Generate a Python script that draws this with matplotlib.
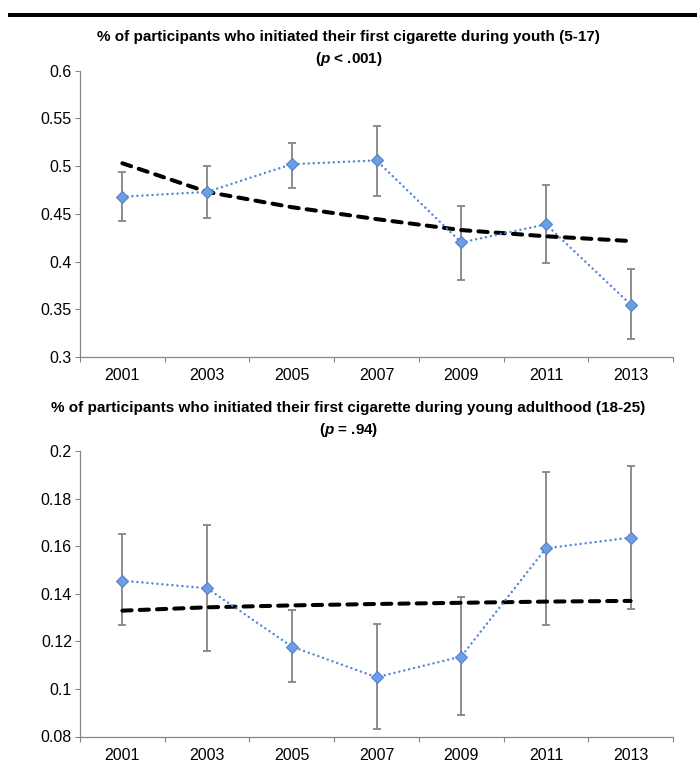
import matplotlib
matplotlib.use("Agg")
import matplotlib.pyplot as plt
from matplotlib.patches import Rectangle

plt.rcParams['font.family'] = ['Liberation Sans', 'DejaVu Sans']
plt.rcParams['mathtext.fontset'] = 'custom'
plt.rcParams['mathtext.it'] = 'Liberation Sans:italic:bold'
plt.rcParams['mathtext.rm'] = 'Liberation Sans:bold'

years = ['2001', '2003', '2005', '2007', '2009', '2011', '2013']

# youth (5-17)
youth = [0.468, 0.473, 0.502, 0.506, 0.420, 0.439, 0.355]
youth_lo = [0.4425, 0.4456, 0.477, 0.469, 0.381, 0.398, 0.319]
youth_hi = [0.494, 0.500, 0.5245, 0.5423, 0.458, 0.480, 0.392]
youth_trend = [0.503, 0.473, 0.457, 0.4445, 0.433, 0.4265, 0.4215]

# young adulthood (18-25)
adult = [0.1455, 0.1423, 0.1178, 0.1049, 0.1136, 0.1591, 0.1636]
adult_lo = [0.1268, 0.116, 0.1027, 0.0833, 0.0891, 0.1269, 0.1336]
adult_hi = [0.165, 0.1689, 0.1332, 0.1273, 0.1385, 0.1912, 0.1938]
adult_trend = [0.1329, 0.1343, 0.1351, 0.1357, 0.1362, 0.1367, 0.137]

titles = [
    ("% of participants who initiated their first cigarette during youth (5-17)",
     r"($\mathit{p}$ < .001)"),
    ("% of participants who initiated their first cigarette during young adulthood (18-25)",
     r"($\mathit{p}$ = .94)"),
]

W, H = 697, 763
fig = plt.figure(figsize=(W / 100, H / 100), dpi=100)

# thick rule across the top
fig.add_artist(Rectangle((8 / W, 1 - 17 / H), 1 - 8 / W, 4.5 / H,
                         transform=fig.transFigure, color='black', lw=0))


def draw_panel(rect, vals, lo, hi, trend, ylim, yticks):
    ax = fig.add_axes(rect)
    x = list(range(len(years)))
    err = [[v - l for v, l in zip(vals, lo)], [h - v for v, h in zip(vals, hi)]]
    ax.errorbar(x, vals, yerr=err, fmt='none', ecolor='#858585', elinewidth=1.3,
                capsize=2.8, capthick=1.3, zorder=2)
    ax.plot(x, trend, color='black', lw=2.9, dashes=(2.3, 2.0),
            dash_capstyle='round', solid_capstyle='round', zorder=3)
    # dotted connecting line
    ax.plot(x, vals, color='#4f86d6', lw=1.8, ls=(0, (0.01, 2.0)),
            dash_capstyle='round', zorder=4)
    ax.plot(x, vals, ls='none', marker='D', ms=6.3, mfc='#6f9de3',
            mec='#5083cc', mew=0.8, zorder=5)

    ax.set_xlim(-0.5, len(years) - 0.5)
    ax.set_ylim(*ylim)
    ax.set_yticks(yticks)
    ax.set_yticklabels([f"{t:.2f}".rstrip('0') for t in yticks])
    ax.set_xticks(x)
    ax.set_xticklabels(years)
    ax.set_xticks([i + 0.5 for i in range(-1, len(years))], minor=True)
    ax.tick_params(axis='x', which='major', length=0, pad=8, labelsize=11.5)
    ax.tick_params(axis='x', which='minor', length=3.5, width=0.8, color='#868686',
                   direction='out')
    ax.tick_params(axis='y', length=3.3, width=0.8, color='#868686', pad=2.5,
                   labelsize=11.5)
    for s in ['top', 'right']:
        ax.spines[s].set_visible(False)
    for s in ['left', 'bottom']:
        ax.spines[s].set_color('#868686')
        ax.spines[s].set_linewidth(0.9)
    return ax


# top panel: axes from x 80..673, y 70.7..357
draw_panel([80 / W, 1 - 357 / H, 593 / W, 286.3 / H],
           youth, youth_lo, youth_hi, youth_trend,
           (0.3, 0.6), [0.3, 0.35, 0.4, 0.45, 0.5, 0.55, 0.6])
# bottom panel: y 451..736.5
draw_panel([80 / W, 1 - 736.5 / H, 593 / W, 285.5 / H],
           adult, adult_lo, adult_hi, adult_trend,
           (0.08, 0.2), [0.08, 0.1, 0.12, 0.14, 0.16, 0.18, 0.2])

for (l1, l2), (y1, y2) in zip(titles, [(37, 59), (408, 430)]):
    fig.text(0.5, 1 - y1 / H, l1, ha='center', va='center', fontsize=11,
             fontweight='bold')
    fig.text(0.5, 1 - y2 / H, l2, ha='center', va='center', fontsize=11,
             fontweight='bold')

fig.savefig('out.png', dpi=100)
